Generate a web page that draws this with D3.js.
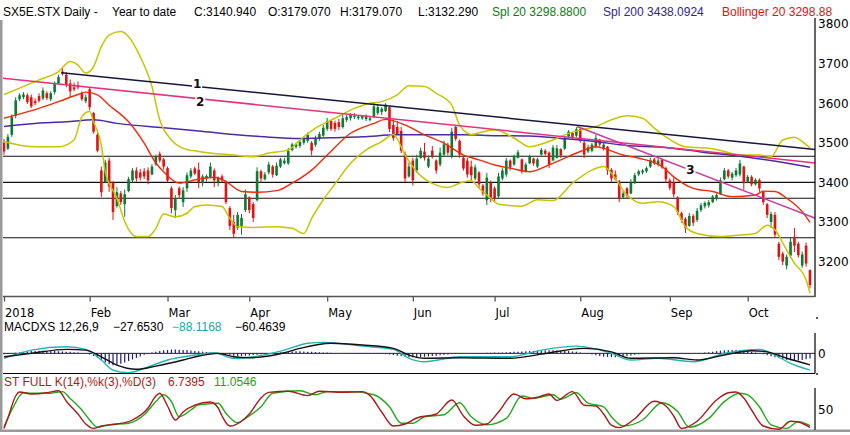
<!DOCTYPE html>
<html>
<head>
<meta charset="utf-8">
<script src="https://cdn.jsdelivr.net/npm/d3@7"></script>
<style>
  body { margin: 0; background: #fff; }
  svg { display: block; }
</style>
</head>
<body>
<div id="chart"></div>
<script>
// ---- data (day index 0 = 2 Jan 2018) ----

// daily candles [open, high, low, close]
const candles = [
  [3500,3510,3470,3478],[3485,3522,3482,3515],[3520,3572,3515,3565],[3568,3615,3562,3607],[3610,3625,3605,3620],
  [3615,3628,3610,3622],[3620,3625,3598,3603],[3615,3622,3588,3592],[3605,3612,3595,3600],[3618,3625,3602,3606],
  [3612,3640,3608,3632],[3625,3630,3608,3613],[3610,3630,3605,3625],[3628,3655,3622,3648],[3650,3672,3648,3666],
  [3680,3689,3670,3674],[3672,3678,3640,3648],[3650,3660,3615,3630],[3640,3652,3630,3635],[3645,3655,3635,3640],
  [3625,3630,3606,3610],[3605,3622,3600,3615],
  // Feb
  [3635,3640,3582,3590],[3575,3578,3523,3528],[3520,3525,3476,3480],[3430,3440,3363,3375],[3400,3457,3398,3450],
  [3455,3462,3376,3390],[3400,3403,3305,3325],[3340,3388,3336,3375],[3372,3378,3343,3350],[3345,3382,3313,3370],
  [3378,3414,3375,3408],[3405,3436,3400,3430],[3430,3438,3402,3410],[3425,3434,3405,3412],[3428,3436,3408,3415],
  [3430,3438,3395,3405],[3420,3446,3418,3440],[3445,3470,3442,3465],[3472,3478,3450,3455],[3458,3462,3432,3440],
  // Mar
  [3436,3440,3400,3405],[3385,3390,3322,3335],[3330,3368,3310,3358],[3385,3390,3360,3368],[3350,3388,3338,3380],
  [3385,3425,3376,3418],[3415,3436,3410,3430],[3435,3440,3418,3422],[3432,3450,3386,3400],[3398,3420,3390,3415],
  [3410,3420,3402,3416],[3412,3450,3410,3440],[3430,3435,3388,3405],[3400,3415,3390,3410],[3415,3420,3400,3405],
  [3402,3405,3345,3350],[3335,3340,3280,3290],[3300,3318,3260,3270],[3285,3325,3280,3318],[3290,3320,3268,3310],
  [3330,3382,3325,3370],
  // Apr
  [3362,3365,3322,3330],[3345,3350,3300,3310],[3355,3438,3352,3428],[3428,3432,3400,3410],[3408,3426,3405,3420],
  [3425,3452,3420,3445],[3440,3444,3412,3420],[3418,3450,3416,3442],[3440,3462,3436,3458],[3448,3462,3445,3455],
  [3448,3487,3444,3480],[3482,3500,3478,3496],[3490,3500,3485,3496],[3492,3507,3487,3502],[3500,3515,3495,3510],
  [3505,3526,3500,3520],[3500,3504,3468,3480],[3495,3518,3490,3512],[3510,3528,3505,3522],[3518,3545,3515,3538],
  // May
  [3535,3563,3530,3555],[3555,3558,3530,3535],[3550,3556,3528,3535],[3552,3560,3532,3540],[3540,3570,3536,3562],
  [3558,3570,3552,3565],[3562,3575,3556,3570],[3565,3575,3560,3568],[3562,3570,3558,3566],[3562,3570,3558,3567],
  [3560,3572,3555,3566],[3558,3566,3554,3562],[3565,3600,3562,3592],[3575,3598,3570,3590],[3578,3590,3570,3586],
  [3580,3600,3578,3596],[3590,3592,3527,3535],[3545,3560,3505,3512],[3540,3555,3520,3522],[3530,3540,3474,3480],
  [3472,3478,3400,3410],[3415,3450,3412,3440],
  // Jun
  [3455,3462,3392,3405],[3430,3470,3424,3460],[3462,3488,3460,3480],[3478,3500,3455,3462],[3440,3468,3436,3460],
  [3480,3492,3460,3465],[3455,3458,3422,3430],[3445,3488,3440,3475],[3470,3505,3466,3496],[3495,3500,3468,3475],
  [3465,3538,3460,3528],[3540,3545,3505,3510],[3505,3508,3462,3470],[3462,3466,3430,3435],[3455,3462,3412,3420],
  [3440,3455,3405,3418],[3410,3445,3405,3438],[3425,3428,3386,3395],[3392,3396,3366,3372],[3355,3424,3343,3412],
  [3400,3405,3350,3358],
  // Jul
  [3385,3390,3350,3360],[3365,3424,3360,3415],[3410,3436,3405,3430],[3420,3462,3414,3455],[3455,3458,3430,3438],
  [3445,3470,3442,3465],[3462,3482,3460,3476],[3458,3460,3422,3428],[3428,3450,3425,3445],[3448,3470,3446,3465],
  [3460,3462,3442,3448],[3440,3462,3436,3458],[3470,3487,3468,3482],[3480,3484,3468,3472],[3475,3478,3436,3445],
  [3455,3494,3455,3488],[3462,3494,3460,3486],[3484,3486,3462,3468],[3485,3515,3482,3510],[3516,3532,3514,3528],
  [3525,3528,3510,3515],[3518,3540,3514,3534],
  // Aug
  [3535,3538,3500,3505],[3500,3510,3462,3470],[3478,3495,3474,3488],[3480,3500,3476,3495],[3490,3520,3486,3512],
  [3508,3510,3490,3496],[3484,3500,3480,3495],[3490,3492,3419,3430],[3432,3436,3401,3410],[3420,3430,3405,3408],
  [3402,3406,3350,3360],[3362,3378,3358,3372],[3385,3388,3360,3366],[3372,3408,3370,3400],[3398,3424,3396,3418],
  [3420,3432,3416,3428],[3425,3434,3420,3430],[3428,3440,3424,3436],[3440,3462,3436,3456],[3458,3462,3444,3448],
  [3445,3460,3440,3455],[3457,3460,3434,3438],[3436,3440,3400,3408],
  // Sep
  [3405,3410,3380,3386],[3400,3412,3362,3370],[3362,3365,3318,3325],[3322,3326,3298,3305],[3308,3312,3272,3285],
  [3290,3322,3288,3315],[3315,3320,3290,3298],[3305,3335,3300,3328],[3330,3348,3325,3342],[3340,3352,3334,3348],
  [3342,3355,3336,3350],[3350,3368,3348,3364],[3358,3372,3354,3368],[3370,3412,3368,3405],[3408,3436,3405,3430],
  [3430,3434,3410,3415],[3412,3426,3405,3422],[3418,3436,3414,3430],[3420,3457,3415,3448],[3440,3442,3381,3398],
  // Oct
  [3402,3419,3398,3414],[3414,3418,3390,3395],[3395,3410,3392,3406],[3406,3410,3376,3385],[3376,3378,3343,3350],
  [3345,3348,3310,3318],[3300,3326,3285,3320],[3318,3325,3260,3268],[3245,3250,3204,3212],[3220,3225,3191,3200],
  [3190,3218,3180,3212],[3215,3260,3210,3250],[3262,3285,3224,3240],[3245,3250,3210,3216],[3190,3225,3184,3218],
  [3240,3248,3187,3195],[3179.07,3179.07,3132.29,3140.94]
];

// month starts (day index) and their labels
const monthStarts = [0, 22, 42, 63, 83, 105, 126, 148, 171, 191];
const monthNames = ['2018', 'Feb', 'Mar', 'Apr', 'May', 'Jun', 'Jul', 'Aug', 'Sep', 'Oct'];

// price axis ticks
const priceTicks = [3200, 3300, 3400, 3500, 3600, 3700, 3800];

// horizontal support / resistance levels
const levels = [3466, 3400, 3360, 3260];

// 20 day average (middle Bollinger line) [day, value]
const sma20 = [[0,3562],[3,3570],[9,3587],[14,3604],[19,3622],[21,3628],[24,3621],[27,3595],[32,3553],[36,3499],
  [39,3449],[41,3427],[45,3398],[49,3406],[54,3413],[57,3402],[61,3377],[65,3375],[70,3379],[74,3398],[79,3431],
  [83,3469],[89,3524],[95,3549],[98,3559],[103,3545],[108,3520],[113,3499],[118,3469],[122,3457],[126,3444],
  [130,3436],[135,3427],[139,3440],[143,3457],[148,3478],[152,3490],[154,3486],[159,3469],[163,3461],[169,3440],
  [172,3414],[177,3385],[182,3377],[187,3364],[193,3368],[195,3378],[198,3377],[201,3360],[205,3326],[207,3298.88]];

// 200 day average
const sma200 = [[0,3541],[7,3548],[16,3553],[23,3558],[29,3549],[41,3538],[50,3530],[59,3521],[67,3515],[76,3511],
  [84,3513],[92,3515],[101,3520],[110,3520],[118,3520],[126,3518],[135,3517],[143,3511],[152,3503],[160,3493],
  [169,3489],[179,3477],[192,3462],[199,3452],[207,3438.09]];

// Bollinger bands
const bbUpper = [[0,3622],[4,3638],[9,3659],[14,3680],[17,3705],[19,3696],[21,3676],[23,3692],[25,3743],[27,3772],
  [30,3781],[32,3768],[35,3717],[38,3642],[40,3558],[43,3507],[46,3486],[50,3478],[59,3469],[64,3465],[68,3474],
  [73,3482],[76,3507],[80,3537],[85,3562],[90,3587],[94,3600],[97,3604],[101,3621],[104,3644],[108,3642],
  [111,3625],[115,3595],[117,3545],[120,3521],[123,3528],[126,3532],[131,3512],[135,3490],[137,3494],[141,3507],
  [144,3520],[148,3532],[152,3541],[156,3558],[160,3568],[164,3562],[167,3537],[170,3515],[175,3490],[181,3486],
  [185,3478],[189,3469],[194,3469],[197,3465],[200,3507],[203,3514],[205,3503],[207,3487]];
const bbLower = [[0,3503],[4,3494],[9,3490],[14,3490],[18,3507],[20,3566],[22,3579],[23,3553],[25,3494],[26,3427],
  [29,3360],[31,3301],[34,3263],[37,3263],[39,3284],[41,3320],[44,3313],[47,3322],[49,3339],[52,3343],[56,3339],
  [58,3309],[60,3288],[64,3286],[70,3288],[74,3284],[77,3271],[79,3309],[82,3356],[85,3396],[89,3448],[93,3482],
  [97,3503],[100,3521],[103,3469],[106,3427],[111,3393],[114,3387],[117,3398],[120,3404],[122,3385],[125,3360],
  [127,3345],[133,3340],[137,3356],[141,3354],[146,3398],[151,3431],[154,3440],[156,3423],[160,3368],[164,3347],
  [168,3351],[172,3339],[175,3288],[178,3271],[184,3263],[189,3267],[193,3271],[196,3292],[198,3280],[201,3229],
  [203,3196],[206,3154],[207,3120]];

// drawn trend lines: [[day, price], [day, price]]
const trendEnds = [
  [[14.8, 3677], [208.5, 3483]],
  [[-0.3, 3663], [208.5, 3449]],
  [[147.2, 3541], [208.5, 3309]]
];
const trendNames = ['1', '2', '3'];

// MACD 12,26,9
const macdLine = [[0,-26],[7,17],[16,35],[21,21],[25,-35],[28,-88],[32,-102],[36,-79],[42,-35],[49,-9],[54,3],
  [59,-26],[64,-18],[72,17],[78,53],[82,58],[92,38],[100,21],[104,-26],[108,-44],[117,-18],[130,-18],[138,17],
  [147,38],[156,0],[161,-35],[168,-26],[177,-44],[185,0],[194,21],[198,-9],[202,-53],[207,-88.12]];
const macdSignal = [[0,-18],[7,0],[16,21],[21,17],[25,-18],[29,-62],[34,-84],[39,-67],[46,-35],[50,-14],[55,0],
  [59,-18],[63,-23],[68,-14],[72,3],[76,26],[84,53],[92,44],[100,26],[104,-9],[108,-26],[117,-23],[130,-26],
  [138,-4],[149,26],[156,8],[161,-26],[172,-23],[178,-35],[185,-9],[192,14],[196,8],[201,-26],[207,-60.46]];
const macdHist = [
  -5,-3,0,3,6,8,10,
  12,13,14,14,13,12,12,11,10,9,8,6,4,2,0,
  -6,-14,-24,-36,-48,-58,-62,-60,-55,-48,-40,-32,-24,-16,-8,-2,
  4,9,13,16,18,20,20,19,18,17,15,13,11,9,7,5,3,1,
  -3,-6,-9,-12,-14,-14,-13,-11,-9,-7,-5,-3,-1,1,3,
  5,7,9,10,11,11,10,9,8,7,6,5,4,3,2,
  1,0,-1,-2,-2,-3,-3,-3,-2,-2,-2,-3,-4,-6,-9,
  -12,-15,-18,-20,-21,-21,-20,-18,-16,-14,-12,-10,-8,-6,-4,
  -3,-2,-1,0,1,2,2,2,3,3,4,4,5,6,7,8,9,10,11,12,
  13,14,15,16,16,16,15,14,13,12,10,8,5,2,-2,
  -6,-10,-14,-17,-19,-20,-20,-19,-17,-14,-11,-8,-5,-2,0,
  1,2,2,2,1,0,-1,-2,-3,-3,-2,-1,0,2,4,
  6,9,12,14,16,17,18,18,17,15,12,8,4,0,-5,
  -10,-15,-20,-25,-30,-34,-37,-39,-38,-35,-31,-27.65
];

// full stochastic 14,3,3
const stochK = [[0,4],[1,30],[3,85],[4,95],[7,90],[11,93],[14,98],[16,72],[19,40],[21,15],[23,4],[25,10],[29,15],
  [33,25],[37,55],[39,85],[40,92],[42,60],[44,25],[46,45],[49,62],[53,70],[55,55],[56,35],[58,10],[61,22],[63,40],
  [66,80],[68,94],[73,97],[78,86],[81,97],[87,94],[92,96],[94,86],[97,45],[100,10],[103,15],[106,30],[111,40],
  [115,75],[118,35],[121,12],[124,15],[127,45],[131,90],[134,78],[137,82],[140,90],[142,74],[146,96],[149,62],
  [152,60],[154,40],[156,12],[158,6],[162,28],[167,72],[170,60],[172,35],[174,4],[178,22],[183,75],[186,93],
  [188,95],[190,80],[192,50],[195,10],[199,2],[202,22],[204,20],[207,6.74]];
const stochD = [[0,8],[2,50],[5,93],[7,92],[12,92],[15,96],[17,79],[20,50],[22,25],[24,7],[27,13],[32,17],[36,38],
  [39,71],[41,88],[43,71],[45,33],[48,50],[50,63],[55,67],[57,42],[60,18],[62,29],[66,58],[69,92],[76,98],[80,88],
  [83,96],[89,96],[95,88],[99,58],[102,17],[105,17],[108,33],[113,38],[117,68],[120,33],[124,13],[129,29],[133,85],
  [136,79],[141,88],[143,77],[147,93],[150,67],[154,58],[156,33],[159,10],[164,25],[169,68],[173,46],[176,7],
  [181,29],[185,71],[189,92],[191,88],[194,58],[197,13],[201,4],[204,21],[207,11.05]];

// ---- layout ----
const width = 850, height = 435;
const axisX = 815;
const upColor = '#0c7a30', downColor = '#dd1414';
const labelFont = "'Liberation Sans',Arial,sans-serif";
const axisFont = "'DejaVu Sans',sans-serif";

const svg = d3.select('#chart').append('svg')
  .attr('width', width)
  .attr('height', height)
  .style('background', '#fff');

const x = d3.scaleLinear().domain([0, 207]).range([4, 810]);
const y = d3.scaleLinear().domain([3113, 3800]).range([296, 24]);
const yMacd = d3.scaleLinear().domain([-105, 105]).range([373.3, 333.4]);
const yStoch = d3.scaleLinear().domain([0, 100]).range([430, 390]);

// clip areas for the three panels
const defs = svg.append('defs');
[['clipMain', 18, 278], ['clipMacd', 333, 40], ['clipStoch', 386, 44]].forEach(([id, top, h]) => {
  defs.append('clipPath').attr('id', id)
    .append('rect').attr('x', 3).attr('y', top).attr('width', axisX - 3).attr('height', h);
});

// window frame (left and bottom grey edge)
svg.append('rect').attr('x', 0).attr('y', 20).attr('width', 2.5).attr('height', 412).attr('fill', '#9a9a9a');
svg.append('rect').attr('x', 0).attr('y', 429.5).attr('width', width).attr('height', 2.5).attr('fill', '#9a9a9a');

// ---- title ----
const title = svg.append('text')
  .attr('y', 16)
  .style('font-family', labelFont)
  .style('font-size', '12px');
[
  ['SX5E.STX Daily -', 3, '#000'],
  ['Year to date', 112, '#000'],
  ['C:3140.940', 194, '#000'],
  ['O:3179.070', 268, '#000'],
  ['H:3179.070', 340, '#000'],
  ['L:3132.290', 418, '#000'],
  ['Spl 20 3298.8800', 492, '#117a11'],
  ['Spl 200 3438.0924', 603, '#33248c'],
  ['Bollinger 20 3298.88', 722, '#e01212']
].forEach(([t, px, c]) => title.append('tspan').attr('x', px).attr('fill', c).text(t));

// ---- main panel ----
const main = svg.append('g').attr('clip-path', 'url(#clipMain)');

main.selectAll('line.level')
  .data(levels)
  .join('line')
  .attr('class', 'level')
  .attr('x1', 3).attr('x2', axisX)
  .attr('y1', d => y(d)).attr('y2', d => y(d))
  .attr('stroke', '#111')
  .attr('stroke-width', 1.1);

const curve = d3.line()
  .x(d => x(d[0]))
  .y(d => y(d[1]))
  .curve(d3.curveMonotoneX);

// candles
const colorOf = d => d[3] >= d[0] ? upColor : downColor;
main.append('g').selectAll('line')
  .data(candles)
  .join('line')
  .attr('x1', (d, i) => x(i)).attr('x2', (d, i) => x(i))
  .attr('y1', d => y(d[1])).attr('y2', d => y(d[2]))
  .attr('stroke', colorOf)
  .attr('stroke-width', 1);
main.append('g').selectAll('rect')
  .data(candles)
  .join('rect')
  .attr('x', (d, i) => x(i) - 1.3)
  .attr('width', 2.6)
  .attr('y', d => y(Math.max(d[0], d[3])))
  .attr('height', d => Math.max(1, Math.abs(y(d[0]) - y(d[3]))))
  .attr('fill', colorOf);

// indicator lines
[[sma200, '#4a2c9e', 1.5], [bbUpper, '#c9c400', 1.5], [bbLower, '#c9c400', 1.5], [sma20, '#f02a0a', 1.4]]
  .forEach(([data, color, w]) => {
    main.append('path')
      .datum(data)
      .attr('d', curve)
      .attr('fill', 'none')
      .attr('stroke', color)
      .attr('stroke-width', w);
  });

// trend lines with their numbers (number 1 sits just above its line, 2 just below)
const trendColors = ['#16163c', '#e2347c', '#cc3a9e'];
const trendLabelAt = [49.6, 50.4, 176.3];
const trendLabelShift = [-2.5, 2.5, 0];
trendEnds.forEach((ends, k) => {
  main.append('line')
    .attr('x1', x(ends[0][0])).attr('y1', y(ends[0][1]))
    .attr('x2', x(ends[1][0])).attr('y2', y(ends[1][1]))
    .attr('stroke', trendColors[k])
    .attr('stroke-width', 1.5);
  const t = (trendLabelAt[k] - ends[0][0]) / (ends[1][0] - ends[0][0]);
  const lx = x(trendLabelAt[k]);
  const ly = y(ends[0][1] + t * (ends[1][1] - ends[0][1])) + trendLabelShift[k];
  main.append('rect')
    .attr('x', lx - 5).attr('y', ly - 6).attr('width', 10).attr('height', 12)
    .attr('fill', '#fff');
  main.append('text')
    .attr('x', lx).attr('y', ly)
    .attr('dy', '0.36em')
    .attr('text-anchor', 'middle')
    .style('font-family', axisFont)
    .style('font-size', '12px')
    .style('font-weight', 'bold')
    .attr('fill', '#111')
    .text(trendNames[k]);
});

// price axis on the right
svg.append('line')
  .attr('x1', axisX).attr('x2', axisX).attr('y1', 18).attr('y2', 297)
  .attr('stroke', '#000').attr('stroke-width', 1.2);
svg.append('g')
  .attr('transform', `translate(${axisX},0)`)
  .call(d3.axisRight(y).tickValues(priceTicks).tickSize(0).tickPadding(3).tickFormat(d3.format('d')))
  .call(g => g.select('.domain').remove())
  .call(g => g.selectAll('text')
    .style('font-family', axisFont)
    .style('font-size', '12px')
    .attr('fill', '#000'));

// time axis
svg.append('line')
  .attr('x1', 3).attr('x2', axisX).attr('y1', 296.5).attr('y2', 296.5)
  .attr('stroke', '#555').attr('stroke-width', 1.5);
svg.append('g')
  .attr('transform', 'translate(0,296.5)')
  .call(d3.axisBottom(x).tickValues(monthStarts).tickSize(5).tickPadding(7)
    .tickFormat((d, i) => monthNames[i]))
  .call(g => g.select('.domain').remove())
  .call(g => g.selectAll('.tick line').attr('stroke', '#555').attr('stroke-width', 1.3))
  .call(g => g.selectAll('text')
    .attr('text-anchor', 'start')
    .attr('x', 0.5)
    .style('font-family', axisFont)
    .style('font-size', '11.5px')
    .attr('fill', '#000'));

// small markers beside the axis
[318, 374].forEach(py => svg.append('circle').attr('cx', 817).attr('cy', py).attr('r', 1.1).attr('fill', '#333'));

// ---- MACD panel ----
const macdTitle = svg.append('text')
  .attr('y', 330.5)
  .style('font-family', labelFont)
  .style('font-size', '12px');
[
  ['MACDXS 12,26,9', 4, '#000'],
  ['\u221227.6530', 113, '#000'],
  ['\u221288.1168', 172, '#1fa3a3'],
  ['\u221260.4639', 235, '#000']
].forEach(([t, px, c]) => macdTitle.append('tspan').attr('x', px).attr('fill', c).text(t));

const macdG = svg.append('g').attr('clip-path', 'url(#clipMacd)');
macdG.append('line')
  .attr('x1', 3).attr('x2', axisX).attr('y1', yMacd(0)).attr('y2', yMacd(0))
  .attr('stroke', '#222').attr('stroke-width', 1);
macdG.append('g').selectAll('line')
  .data(macdHist)
  .join('line')
  .attr('x1', (d, i) => x(i)).attr('x2', (d, i) => x(i))
  .attr('y1', yMacd(0)).attr('y2', d => yMacd(d))
  .attr('stroke', '#1c1c70')
  .attr('stroke-width', 1.2);

const macdCurve = d3.line().x(d => x(d[0])).y(d => yMacd(d[1])).curve(d3.curveMonotoneX);
[[macdLine, '#22b4b4'], [macdSignal, '#111']].forEach(([data, color]) => {
  macdG.append('path')
    .datum(data)
    .attr('d', macdCurve)
    .attr('fill', 'none')
    .attr('stroke', color)
    .attr('stroke-width', 1.4);
});

svg.append('line')
  .attr('x1', 3).attr('x2', axisX).attr('y1', 373.5).attr('y2', 373.5)
  .attr('stroke', '#000').attr('stroke-width', 1.2);
svg.append('line')
  .attr('x1', axisX).attr('x2', axisX).attr('y1', 333).attr('y2', 373.5)
  .attr('stroke', '#000').attr('stroke-width', 1.2);
svg.append('g')
  .attr('transform', `translate(${axisX},0)`)
  .call(d3.axisRight(yMacd).tickValues([0]).tickSize(0).tickPadding(3))
  .call(g => g.select('.domain').remove())
  .call(g => g.selectAll('text').style('font-family', axisFont).style('font-size', '12px').attr('fill', '#000'));

// ---- stochastic panel ----
const stTitle = svg.append('text')
  .attr('y', 386)
  .style('font-family', labelFont)
  .style('font-size', '12px');
[
  ['ST FULL K(14),%k(3),%D(3)', 4, '#a51c1c'],
  ['6.7395', 168, '#a51c1c'],
  ['11.0546', 214, '#2c9a12']
].forEach(([t, px, c]) => stTitle.append('tspan').attr('x', px).attr('fill', c).text(t));

const stG = svg.append('g').attr('clip-path', 'url(#clipStoch)');
const stCurve = d3.line().x(d => x(d[0])).y(d => yStoch(d[1])).curve(d3.curveMonotoneX);
[[stochD, '#22a81a'], [stochK, '#a81a1a']].forEach(([data, color]) => {
  stG.append('path')
    .datum(data)
    .attr('d', stCurve)
    .attr('fill', 'none')
    .attr('stroke', color)
    .attr('stroke-width', 1.4);
});

svg.append('line')
  .attr('x1', axisX).attr('x2', axisX).attr('y1', 388).attr('y2', 430)
  .attr('stroke', '#000').attr('stroke-width', 1.2);
svg.append('g')
  .attr('transform', `translate(${axisX},0)`)
  .call(d3.axisRight(yStoch).tickValues([50]).tickSize(0).tickPadding(3))
  .call(g => g.select('.domain').remove())
  .call(g => g.selectAll('text').style('font-family', axisFont).style('font-size', '12px').attr('fill', '#000'));
</script>
</body>
</html>
